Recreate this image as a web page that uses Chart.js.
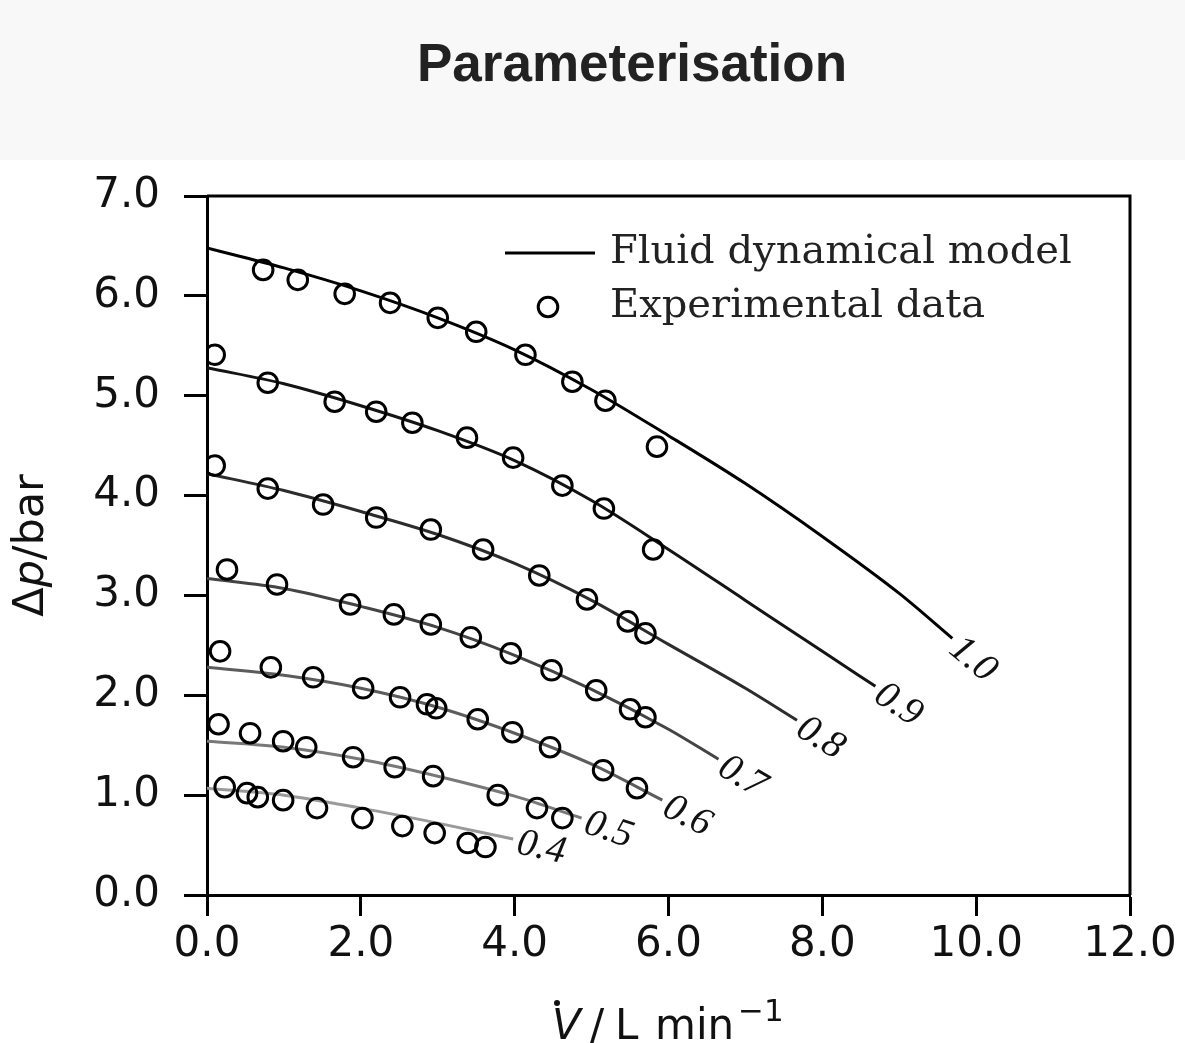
<!DOCTYPE html>
<html>
<head>
<meta charset="utf-8">
<script src="https://cdn.jsdelivr.net/npm/chart.js@4.4.1/dist/chart.umd.min.js"></script>
<style>
  html, body { margin: 0; padding: 0; background: #fff; }
  #head { position: relative; width: 1185px; height: 160px; background: #f8f8f8; }
  #head h1 {
    position: absolute; left: 417px; top: 36px; margin: 0;
    font: bold 53px/53px "Liberation Sans", Arial, sans-serif; color: #222;
  }
  #wrap { position: relative; width: 1185px; height: 883px; }
</style>
</head>
<body>
<div id="head"><h1>Parameterisation</h1></div>
<div id="wrap"><canvas id="chart"></canvas></div>
<script>
// Pressure drop vs. volume flow – model curves and measured points,
// one curve per parameter value (1.0 … 0.4).

const curveLabels = ['1.0', '0.9', '0.8', '0.7', '0.6', '0.5', '0.4'];
const curveColors = ['#000000', '#141414', '#2c2c2c', '#444444', '#5c5c5c', '#787878', '#9a9a9a'];

// ── Fluid dynamical model (x: L/min, y: bar) ────────────────────────────────
const fit10 = [[0, 6.48], [1, 6.28], [2, 6.05], [3, 5.78], [4, 5.46], [5, 5.06], [6, 4.60], [7, 4.12], [8, 3.59], [9, 3.02], [9.69, 2.57]];
const fit09 = [[0, 5.28], [1, 5.12], [2, 4.90], [3, 4.65], [4, 4.35], [5, 3.95], [6, 3.46], [7, 2.95], [8, 2.44], [8.69, 2.09]];
const fit08 = [[0, 4.22], [1, 4.05], [2, 3.84], [3, 3.61], [4, 3.32], [5, 2.95], [6, 2.51], [7, 2.07], [7.67, 1.75]];
const fit07 = [[0, 3.17], [1, 3.07], [2, 2.89], [3, 2.68], [4, 2.40], [5, 2.06], [6, 1.66], [6.65, 1.36]];
const fit06 = [[0, 2.28], [1, 2.20], [2, 2.07], [3, 1.88], [4, 1.62], [5, 1.31], [5.92, 0.95]];
const fit05 = [[0, 1.54], [1, 1.48], [2, 1.36], [3, 1.19], [4, 0.99], [4.87, 0.77]];
const fit04 = [[0, 1.07], [1, 1.00], [2, 0.87], [3, 0.72], [3.98, 0.56]];

// ── Experimental data ──────────────────────────────────────────────────────
const exp10 = [[0.73, 6.26], [1.18, 6.16], [1.79, 6.02], [2.38, 5.93], [3.00, 5.78], [3.50, 5.64], [4.14, 5.41], [4.75, 5.14], [5.18, 4.95], [5.85, 4.49]];
const exp09 = [[0.10, 5.41], [0.79, 5.13], [1.66, 4.94], [2.20, 4.84], [2.67, 4.73], [3.38, 4.58], [3.98, 4.38], [4.62, 4.10], [5.16, 3.87], [5.80, 3.46]];
const exp08 = [[0.10, 4.30], [0.79, 4.07], [1.51, 3.91], [2.20, 3.78], [2.91, 3.66], [3.59, 3.46], [4.32, 3.20], [4.94, 2.96], [5.47, 2.74], [5.70, 2.62]];
const exp07 = [[0.26, 3.26], [0.91, 3.11], [1.86, 2.91], [2.43, 2.81], [2.91, 2.71], [3.43, 2.58], [3.95, 2.42], [4.48, 2.25], [5.06, 2.05], [5.50, 1.86], [5.70, 1.78]];
const exp06 = [[0.17, 2.44], [0.83, 2.28], [1.38, 2.18], [2.03, 2.07], [2.51, 1.98], [2.86, 1.91], [2.98, 1.87], [3.52, 1.76], [3.97, 1.63], [4.46, 1.48], [5.15, 1.25], [5.59, 1.07]];
const exp05 = [[0.15, 1.71], [0.56, 1.62], [0.99, 1.54], [1.29, 1.48], [1.90, 1.38], [2.44, 1.28], [2.94, 1.19], [3.78, 1.00], [4.29, 0.87], [4.62, 0.77]];
const exp04 = [[0.23, 1.08], [0.52, 1.02], [0.66, 0.98], [0.99, 0.95], [1.43, 0.87], [2.02, 0.77], [2.54, 0.69], [2.96, 0.62], [3.39, 0.52], [3.62, 0.48]];

const xTicks = [0, 2, 4, 6, 8, 10, 12];
const yTicks = [0, 1, 2, 3, 4, 5, 6, 7];

const fitCurves = [fit10, fit09, fit08, fit07, fit06, fit05, fit04];
const expSets   = [exp10, exp09, exp08, exp07, exp06, exp05, exp04];

const toXY = arr => arr.map(([x, y]) => ({ x, y }));

const TICK_FONT = { family: 'DejaVu Sans', size: 42 };

// ── Datasets ────────────────────────────────────────────────────────────────
const lineSets = fitCurves.map((pts, i) => ({
  type: 'line',
  label: 'Fluid dynamical model ' + curveLabels[i],
  data: toXY(pts),
  borderColor: curveColors[i],
  borderWidth: 3,
  pointRadius: 0,
  fill: false,
  cubicInterpolationMode: 'monotone',
  order: 2
}));

const pointSets = expSets.map((pts, i) => ({
  type: 'scatter',
  label: 'Experimental data ' + curveLabels[i],
  data: toXY(pts),
  pointStyle: 'circle',
  pointRadius: 9.8,
  pointBorderWidth: 3,
  borderColor: '#000',
  backgroundColor: 'rgba(0,0,0,0)',
  showLine: false,
  order: 1
}));

// ── Frame, curve labels, legend, axis titles ──────────────────────────────
const decorations = {
  id: 'decorations',
  afterDatasetsDraw(chart) {
    const { ctx, chartArea: a, scales: { x, y } } = chart;
    ctx.save();

    // top + right frame
    ctx.strokeStyle = '#000';
    ctx.lineWidth = 3;
    ctx.beginPath();
    ctx.moveTo(a.left, a.top);
    ctx.lineTo(a.right, a.top);
    ctx.lineTo(a.right, a.bottom);
    ctx.stroke();

    // inline labels at the end of each model curve
    ctx.font = 'italic 39px "Liberation Serif", serif';
    ctx.textAlign = 'left';
    ctx.textBaseline = 'middle';
    ctx.fillStyle = '#111';
    fitCurves.forEach((pts, i) => {
      const p1 = pts[pts.length - 2], p2 = pts[pts.length - 1];
      const x1 = x.getPixelForValue(p1[0]), y1 = y.getPixelForValue(p1[1]);
      const x2 = x.getPixelForValue(p2[0]), y2 = y.getPixelForValue(p2[1]);
      ctx.save();
      ctx.translate(x2, y2);
      ctx.rotate(Math.atan2(y2 - y1, x2 - x1));
      ctx.fillText(curveLabels[i], 5, 3);
      ctx.restore();
    });

    // legend (upper right inside the axes)
    const lx = a.left + 298, ly = a.top + 57;
    ctx.lineWidth = 3;
    ctx.beginPath();
    ctx.moveTo(lx, ly);
    ctx.lineTo(lx + 90, ly);
    ctx.stroke();
    ctx.beginPath();
    ctx.arc(lx + 43, ly + 54, 9.8, 0, Math.PI * 2);
    ctx.stroke();
    ctx.font = '40px "DejaVu Serif", serif';
    ctx.fillStyle = '#222';
    ctx.textAlign = 'left';
    ctx.textBaseline = 'middle';
    ctx.fillText('Fluid dynamical model', lx + 105, ly);
    ctx.fillText('Experimental data', lx + 105, ly + 54);

    // y title: Δp/bar
    ctx.fillStyle = '#111';
    ctx.textBaseline = 'alphabetic';
    const yParts = [['Δ', ''], ['p', 'oblique '], ['/bar', '']];
    ctx.save();
    ctx.translate(a.left - 164, (a.top + a.bottom) / 2);
    ctx.rotate(-Math.PI / 2);
    let total = 0;
    yParts.forEach(([t, st]) => { ctx.font = st + '43px "DejaVu Sans"'; total += ctx.measureText(t).width; });
    let cx = -total / 2;
    yParts.forEach(([t, st]) => {
      ctx.font = st + '43px "DejaVu Sans"';
      ctx.fillText(t, cx, 0);
      cx += ctx.measureText(t).width;
    });
    ctx.restore();

    // x title: V̇ / L min^-1
    const bx = a.left + 345, by = a.bottom + 144;
    ctx.textAlign = 'left';
    ctx.font = 'oblique 42px "DejaVu Sans"';
    ctx.fillText('V', bx, by);
    ctx.beginPath();
    ctx.arc(bx + 5, by - 36, 3, 0, Math.PI * 2);
    ctx.fill();
    ctx.font = '42px "DejaVu Sans"';
    ctx.fillText('/', bx + 38, by);
    ctx.fillText('L', bx + 63, by);
    ctx.fillText('min', bx + 103, by);
    ctx.font = '31px "DejaVu Sans"';
    ctx.fillText('−1', bx + 186, by - 18);

    ctx.restore();
  }
};

new Chart(document.getElementById('chart'), {
  type: 'scatter',
  data: { datasets: [...lineSets, ...pointSets] },
  options: {
    responsive: true,
    maintainAspectRatio: false,
    animation: false,
    layout: { padding: { left: 0, top: 36, right: 55, bottom: 0 } },
    plugins: {
      legend: { display: false },
      title: { display: false },
      tooltip: { enabled: false }
    },
    scales: {
      x: {
        type: 'linear',
        min: 0, max: 12,
        afterFit: s => { s.height = 148; s.paddingLeft = 0; s.paddingRight = 0; },
        afterBuildTicks: s => { s.ticks = xTicks.map(v => ({ value: v })); },
        ticks: { color: '#111', font: TICK_FONT, padding: 4, maxRotation: 0, callback: v => v.toFixed(1) },
        grid: { drawOnChartArea: false, tickLength: 21, tickWidth: 3, tickColor: '#000' },
        border: { color: '#000', width: 3 }
      },
      y: {
        type: 'linear',
        min: 0, max: 7,
        afterFit: s => { s.width = 207; s.paddingTop = 0; s.paddingBottom = 0; },
        afterBuildTicks: s => { s.ticks = yTicks.map(v => ({ value: v })); },
        ticks: { color: '#111', font: TICK_FONT, padding: 24, callback: v => v.toFixed(1) },
        grid: { drawOnChartArea: false, tickLength: 23, tickWidth: 3, tickColor: '#000' },
        border: { color: '#000', width: 3 }
      }
    }
  },
  plugins: [decorations]
});
</script>
</body>
</html>
